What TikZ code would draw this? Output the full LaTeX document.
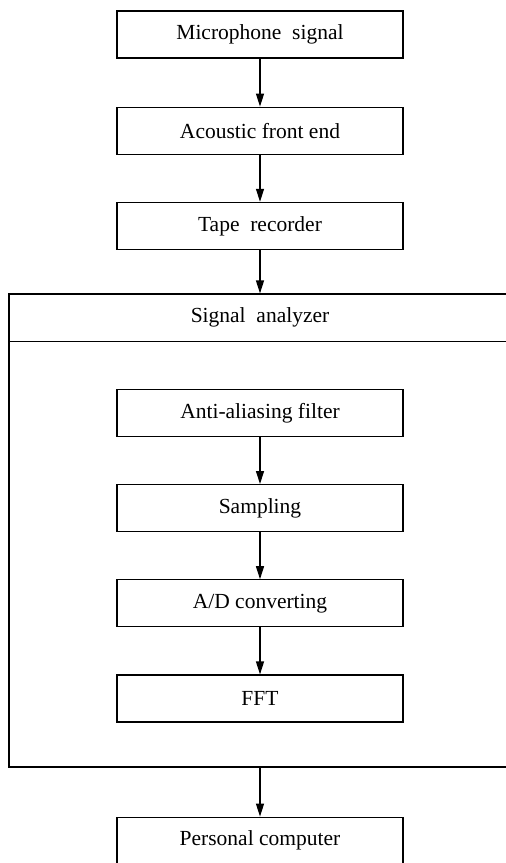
\documentclass[tikz,border=0pt]{standalone}
\usepackage{fontspec}
\setmainfont{Liberation Serif}
\usepackage{tikz}
\usetikzlibrary{arrows.meta,positioning}
\tikzstyle{block} = [rectangle, draw=black, line width=1.2pt, fill=white, text=black, text centered, font=\fontsize{21.5}{25}\selectfont, minimum width=286pt, minimum height=47pt, inner sep=0pt]
\tikzstyle{frame} = [rectangle, draw=black, line width=1.2pt, minimum width=502pt, minimum height=473pt, inner sep=0pt]
\tikzstyle{title} = [text=black, text centered, font=\fontsize{21.5}{25}\selectfont, minimum height=48pt, inner sep=0pt]
\tikzstyle{tedge}  = [draw, line width=1.2pt, >={Triangle[length=13pt,width=8pt]}, ->]

\begin{document}
\begin{tikzpicture}[x=1pt, y=-1pt]
\useasboundingbox (0,0) rectangle (506,863);

% recording chain =============================
\node[block] (mic) at (260,34.5) {Microphone\ \ signal};
\node[block, below=48pt of mic] (front) {Acoustic front end};
\node[block, below=47pt of front] (tape) {Tape\ \ recorder};

% signal analyzer =============================
\node[frame] (sa) at (260,530.5) {};
\node[title, anchor=north] (sahead) at (sa.north) {Signal\ \ analyzer};
\draw[line width=1.2pt] (sa.west |- sahead.south) -- (sa.east |- sahead.south);

\node[block, below=47pt of sahead] (filter) {Anti-aliasing filter};
\node[block, below=47pt of filter] (sampling) {Sampling};
\node[block, below=47pt of sampling] (adc) {A/D converting};
\node[block, below=47pt of adc] (fft) {FFT};

% output
\node[block, below=49pt of sa] (pc) {Personal computer};

%edges
\path[tedge] (mic) -- (front);
\path[tedge] (front) -- (tape);
\path[tedge] (tape) -- (tape |- sa.north);

\path[tedge] (filter) -- (sampling);
\path[tedge] (sampling) -- (adc);
\path[tedge] (adc) -- (fft);

\path[tedge] (pc |- sa.south) -- (pc);

\end{tikzpicture}
\end{document}
